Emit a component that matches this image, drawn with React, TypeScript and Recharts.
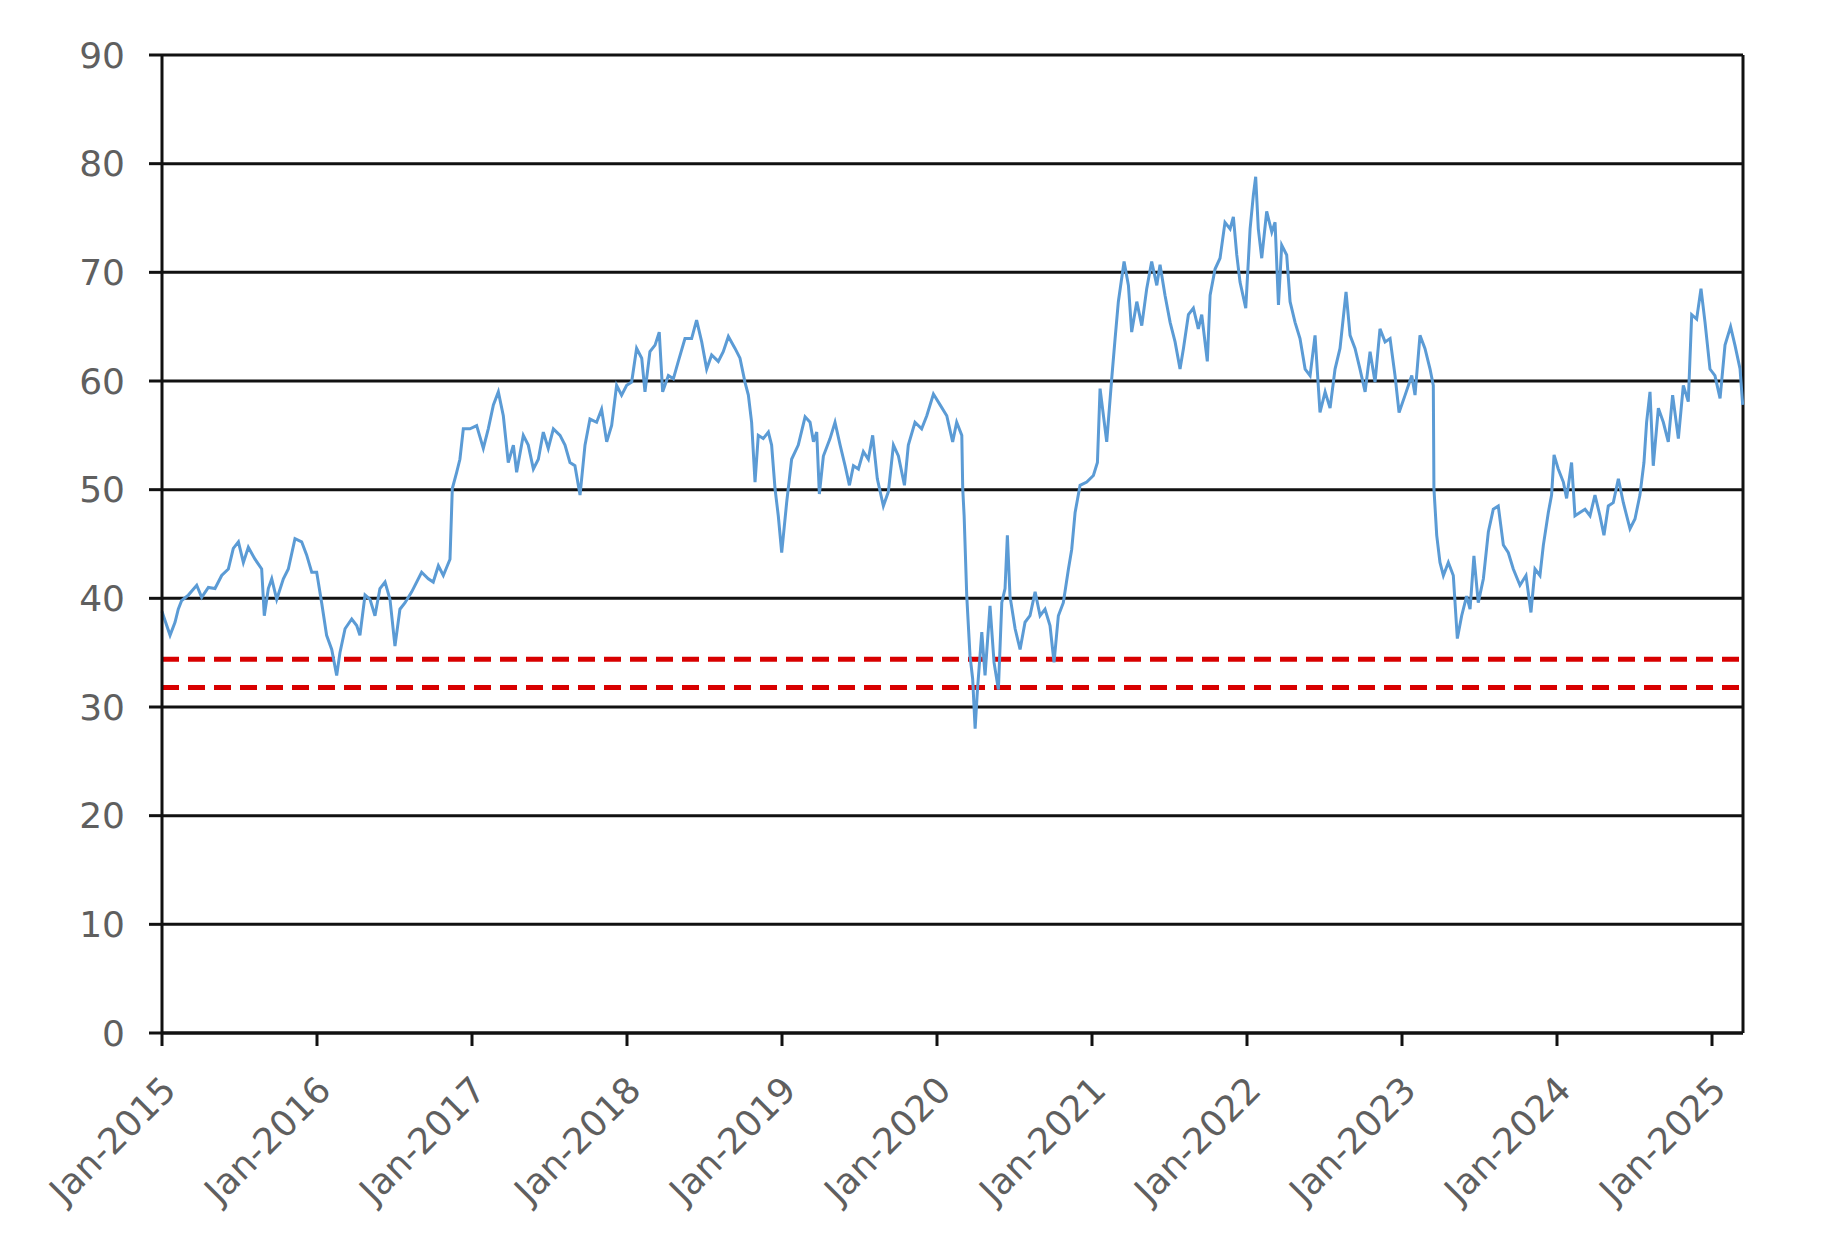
import { CartesianGrid, Line, LineChart, ReferenceLine, XAxis, YAxis } from 'recharts';

// fractional year of each reading
const dates = [
  2015.0, 2015.009, 2015.052, 2015.084, 2015.105, 2015.127, 2015.17, 2015.224, 2015.256, 2015.299,
  2015.342, 2015.385, 2015.428, 2015.46, 2015.493, 2015.525, 2015.557, 2015.6, 2015.643, 2015.66,
  2015.686, 2015.708, 2015.74, 2015.783, 2015.815, 2015.858, 2015.901, 2015.933, 2015.966, 2015.998,
  2016.03, 2016.062, 2016.095, 2016.127, 2016.148, 2016.181, 2016.224, 2016.256, 2016.277, 2016.31,
  2016.342, 2016.374, 2016.406, 2016.439, 2016.471, 2016.503, 2016.535, 2016.568, 2016.611, 2016.675,
  2016.718, 2016.75, 2016.783, 2016.815, 2016.858, 2016.873, 2016.901, 2016.922, 2016.944,
  2016.987, 2017.03, 2017.073, 2017.105, 2017.138, 2017.17, 2017.202, 2017.234, 2017.267, 2017.288,
  2017.331, 2017.363, 2017.396, 2017.428, 2017.46, 2017.492, 2017.525, 2017.568, 2017.6, 2017.632,
  2017.664, 2017.697, 2017.729, 2017.761, 2017.804, 2017.836, 2017.869, 2017.901, 2017.933, 2017.965,
  2017.998, 2018.03, 2018.062, 2018.095, 2018.116, 2018.148, 2018.181, 2018.208, 2018.23, 2018.267,
  2018.299, 2018.331, 2018.374, 2018.417, 2018.449, 2018.482, 2018.514, 2018.546, 2018.589, 2018.621,
  2018.654, 2018.697, 2018.729, 2018.761, 2018.783, 2018.804, 2018.826, 2018.847, 2018.879, 2018.912,
  2018.933, 2018.955, 2018.976, 2018.998, 2019.03, 2019.062, 2019.105,
  2019.149, 2019.181, 2019.203, 2019.224, 2019.241, 2019.267, 2019.31, 2019.342, 2019.375, 2019.407,
  2019.435, 2019.461, 2019.493, 2019.525, 2019.557, 2019.585, 2019.615, 2019.654, 2019.686, 2019.719,
  2019.751, 2019.79, 2019.815, 2019.858, 2019.901, 2019.934, 2019.977, 2020.02, 2020.063, 2020.101,
  2020.127, 2020.16, 2020.166, 2020.175, 2020.192, 2020.213, 2020.23, 2020.246, 2020.261, 2020.289,
  2020.31, 2020.342, 2020.368, 2020.396, 2020.418, 2020.439, 2020.454, 2020.471, 2020.504, 2020.536,
  2020.568, 2020.6, 2020.633, 2020.665, 2020.697, 2020.729, 2020.755, 2020.783, 2020.815, 2020.848,
  2020.869, 2020.891, 2020.923, 2020.966, 2021.009, 2021.035,
  2021.052, 2021.095, 2021.127, 2021.149, 2021.17, 2021.207, 2021.235, 2021.256, 2021.289, 2021.321,
  2021.353, 2021.385, 2021.418, 2021.439, 2021.471, 2021.504, 2021.536, 2021.568, 2021.59, 2021.622,
  2021.654, 2021.686, 2021.708, 2021.744, 2021.762, 2021.794, 2021.826, 2021.858, 2021.891, 2021.912,
  2021.934, 2021.955, 2021.992, 2022.02, 2022.041, 2022.056, 2022.073, 2022.095, 2022.127, 2022.16,
  2022.181, 2022.203, 2022.224, 2022.256, 2022.278, 2022.31, 2022.342, 2022.375, 2022.407, 2022.439,
  2022.471, 2022.504, 2022.536, 2022.568, 2022.6, 2022.639, 2022.665, 2022.697, 2022.729, 2022.762,
  2022.794, 2022.826, 2022.858, 2022.891, 2022.923, 2022.955, 2022.981, 2023.02, 2023.063, 2023.084,
  2023.116, 2023.148, 2023.181, 2023.202, 2023.206, 2023.224, 2023.245, 2023.267, 2023.299, 2023.331,
  2023.357, 2023.385, 2023.417, 2023.439, 2023.464, 2023.492, 2023.525, 2023.557, 2023.589, 2023.621,
  2023.654, 2023.686, 2023.718, 2023.761, 2023.8, 2023.832, 2023.858, 2023.89, 2023.912, 2023.944,
  2023.965, 2023.981, 2024.008, 2024.041, 2024.062, 2024.094, 2024.116, 2024.148, 2024.181, 2024.213,
  2024.245, 2024.277, 2024.303, 2024.331, 2024.363, 2024.396, 2024.428, 2024.471, 2024.503, 2024.535,
  2024.561, 2024.578, 2024.6, 2024.621, 2024.654, 2024.686, 2024.718, 2024.746, 2024.783, 2024.815,
  2024.847, 2024.869, 2024.901, 2024.929, 2024.955, 2024.987, 2025.019, 2025.052, 2025.084, 2025.12,
  2025.148, 2025.181, 2025.198,
];

const values = [
  38.8, 38.4, 36.6, 37.8, 39, 39.8, 40.3, 41.2, 40.1, 41,
  40.9, 42.1, 42.7, 44.6, 45.2, 43.3, 44.7, 43.6, 42.7, 38.4,
  40.9, 41.8, 39.9, 41.8, 42.7, 45.5, 45.2, 44, 42.4, 42.4,
  39.6, 36.6, 35.3, 32.9, 35, 37.2, 38.1, 37.5, 36.6, 40.3,
  39.9, 38.4, 40.9, 41.5, 39.9, 35.6, 39, 39.6, 40.6, 42.4,
  41.8, 41.5, 43, 42.1, 43.6, 50.1, 51.6, 52.8, 55.6,
  55.6, 55.9, 53.8, 55.6, 57.8, 59, 56.8, 52.5, 54.1, 51.6,
  55, 54.1, 51.9, 52.8, 55.3, 53.8, 55.6, 55, 54.1, 52.5,
  52.2, 49.5, 54.1, 56.5, 56.2, 57.4, 54.4, 55.9, 59.6, 58.7,
  59.6, 59.9, 63, 62.1, 59, 62.7, 63.3, 64.5, 59, 60.5,
  60.2, 61.8, 63.9, 63.9, 65.6, 63.6, 61.1, 62.4, 61.8, 62.7,
  64.1, 63, 62.1, 59.9, 58.7, 56.2, 50.7, 55, 54.7, 55.3,
  54.1, 50.1, 47.6, 44.2, 48.8, 52.8, 54.1,
  56.7, 56.2, 54.4, 55.3, 49.6, 53.1, 54.7, 56.2, 54.1, 52.2,
  50.4, 52.2, 51.9, 53.5, 52.8, 55, 51, 48.5, 49.8, 54.1,
  53.1, 50.4, 54.1, 56.2, 55.6, 56.8, 58.8, 57.8, 56.8, 54.4,
  56.2, 55, 50.1, 47.6, 40.2, 34.7, 32.6, 28, 31.6, 36.9,
  32.9, 39.3, 34.1, 31.6, 39.6, 40.9, 45.8, 40.2, 37.2, 35.3,
  37.8, 38.4, 40.6, 38.4, 39, 37.5, 34.1, 38.4, 39.6, 42.7,
  44.5, 47.9, 50.4, 50.7, 51.3, 52.5,
  59.3, 54.4, 60.2, 63.9, 67.3, 71, 68.8, 64.5, 67.3, 65.1,
  68.5, 71, 68.8, 70.7, 67.9, 65.4, 63.6, 61.1, 63, 66.1,
  66.7, 64.8, 66.1, 61.8, 67.9, 70.3, 71.3, 74.6, 74, 75.1,
  71.6, 69.1, 66.7, 74, 77.1, 78.8, 74, 71.3, 75.6, 73.7,
  74.6, 67, 72.5, 71.6, 67.3, 65.4, 63.9, 61.1, 60.5, 64.2,
  57.1, 59, 57.5, 61.1, 63, 68.2, 64.2, 63, 61.1, 59,
  62.7, 59.9, 64.8, 63.6, 63.9, 60.5, 57.1, 58.7, 60.5, 58.7,
  64.2, 63, 61.1, 59.6, 50.1, 45.8, 43.3, 42.1, 43.3, 42.1,
  36.3, 38.4, 40.2, 39, 43.9, 39.6, 41.8, 46.1, 48.2, 48.5,
  44.9, 44.2, 42.7, 41.2, 42.1, 38.7, 42.7, 42.1, 44.9, 47.9,
  49.5, 53.2, 51.9, 50.7, 49.2, 52.5, 47.6, 47.9, 48.2, 47.6,
  49.5, 47.6, 45.8, 48.5, 48.8, 51, 48.8, 46.4, 47.3, 49.5,
  52.5, 56.2, 59, 52.2, 57.5, 56.2, 54.4, 58.7, 54.7, 59.6,
  58.1, 66.1, 65.7, 68.5, 65.4, 61.1, 60.5, 58.4, 63.3, 65,
  63.3, 61.1, 57.8,
];

const yearTicks = [2015, 2016, 2017, 2018, 2019, 2020, 2021, 2022, 2023, 2024, 2025];
const valueTicks = [0, 10, 20, 30, 40, 50, 60, 70, 80, 90];
const bandLevels = [34.4, 31.8];

const rows = dates.map((t, i) => ({ t, v: values[i] }));

const LABEL_FONT = "'DejaVu Sans', Verdana, sans-serif";
const LABEL_COLOR = '#5f5f5f';

function YearTick({ x, y, payload }: any) {
  const ax = x + 16;
  const ay = y + 44;
  return (
    <text
      x={ax}
      y={ay}
      transform={`rotate(-45, ${ax}, ${ay})`}
      textAnchor="end"
      fill={LABEL_COLOR}
      fontSize={36}
      fontFamily={LABEL_FONT}
    >
      {`Jan-${payload.value}`}
    </text>
  );
}

export default function App() {
  return (
    <div style={{ position: 'absolute', left: 0, top: 0, background: '#fff' }}>
      <LineChart
        width={1830}
        height={1238}
        data={rows}
        margin={{ top: 55, right: 87, bottom: 0, left: 0 }}
      >
        <CartesianGrid stroke="#111" strokeWidth={3} vertical={false} />
        <XAxis
          dataKey="t"
          type="number"
          domain={[2015, 2025.2]}
          ticks={yearTicks}
          height={205}
          tickSize={13}
          axisLine={{ stroke: '#111', strokeWidth: 3 }}
          tickLine={{ stroke: '#111', strokeWidth: 3 }}
          tick={<YearTick />}
          interval={0}
        />
        <YAxis
          type="number"
          domain={[0, 90]}
          ticks={valueTicks}
          width={162}
          tickSize={13}
          tickMargin={24}
          axisLine={{ stroke: '#111', strokeWidth: 3 }}
          tickLine={{ stroke: '#111', strokeWidth: 3 }}
          tick={{ fill: LABEL_COLOR, fontSize: 36, fontFamily: LABEL_FONT }}
          interval={0}
        />
        <ReferenceLine x={2025.2} stroke="#111" strokeWidth={3} />
        {bandLevels.map((lvl) => (
          <ReferenceLine
            key={lvl}
            y={lvl}
            stroke="#d80000"
            strokeWidth={5}
            strokeDasharray="17 9"
          />
        ))}
        <Line
          type="linear"
          dataKey="v"
          stroke="#5b9bd5"
          strokeWidth={3}
          dot={false}
          isAnimationActive={false}
        />
      </LineChart>
    </div>
  );
}
